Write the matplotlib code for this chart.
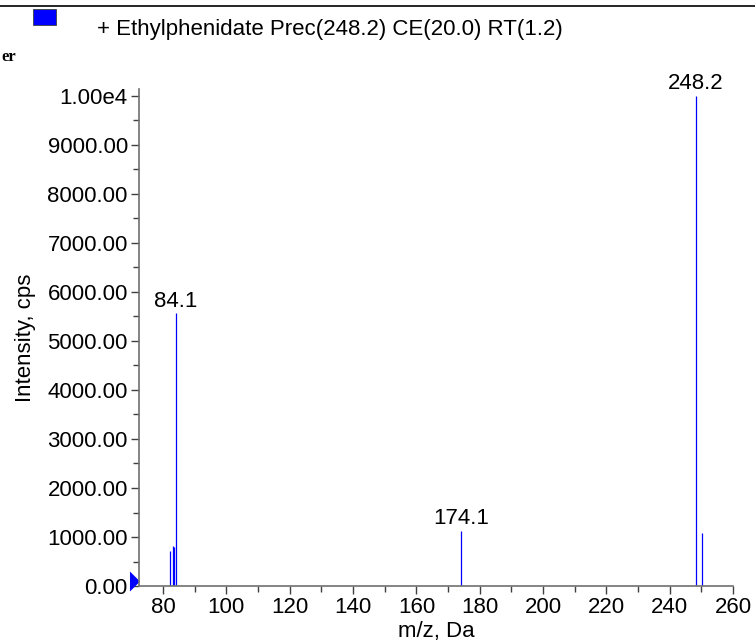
import matplotlib
matplotlib.use('Agg')
import matplotlib.pyplot as plt
from matplotlib.ticker import MultipleLocator, FuncFormatter
from matplotlib.patches import Rectangle
from matplotlib.lines import Line2D

plt.rcParams['font.family'] = ['Liberation Sans', 'DejaVu Sans']

# peaks (m/z, intensity)
mz = [82.3, 83.2, 83.4, 84.1, 174.1, 248.2, 250.2]
intensity = [710, 810, 800, 5560, 1130, 10000, 1090]
labelled = [84.1, 174.1, 248.2]

title = '+ Ethylphenidate Prec(248.2) CE(20.0) RT(1.2)'

fig = plt.figure(figsize=(7.55, 6.43), dpi=100)
ax = fig.add_axes([0.184, 0.0886, 0.787, 0.773])

ax.vlines(mz, 0, intensity, color='#0000ff', linewidth=0.9)
for m, h in zip(mz, intensity):
    if m in labelled:
        ax.annotate('%.1f' % m, (m, h), xytext=(0, 1), textcoords='offset points',
                    ha='center', va='bottom', fontsize=16)

ax.set_xlim(72.4, 260)
ax.set_ylim(0, 10140)
ax.xaxis.set_major_locator(MultipleLocator(20))
ax.xaxis.set_minor_locator(MultipleLocator(10))
ax.yaxis.set_major_locator(MultipleLocator(1000))
ax.yaxis.set_minor_locator(MultipleLocator(500))

def yfmt(v, pos):
    if v >= 10000:
        return '%.2fe4' % (v / 10000)
    return '%.2f' % v
ax.yaxis.set_major_formatter(FuncFormatter(yfmt))
ax.set_xticks([80, 100, 120, 140, 160, 180, 200, 220, 240, 260])

for s in ['top', 'right']:
    ax.spines[s].set_visible(False)
for s in ['left', 'bottom']:
    ax.spines[s].set_color('#707070')
    ax.spines[s].set_linewidth(1.2)
ax.tick_params(which='major', length=6, width=1, color='#404040', labelsize=16, pad=2)
ax.tick_params(which='minor', length=4, width=1, color='#404040')

ax.set_xlabel('m/z, Da', fontsize=16, labelpad=2)
ax.set_ylabel('Intensity, cps', fontsize=16, labelpad=8)

# blue marker left of the y axis near zero
ax.plot([0], [110], marker=[(-1, -1), (0, 0), (-1, 1)], color='#0000ff',
        markersize=13.7, clip_on=False, transform=ax.get_yaxis_transform(),
        markeredgecolor='#0000ff', markeredgewidth=0.5)

# header
fig.add_artist(Line2D([0, 1], [1 - 6 / 643, 1 - 6 / 643], color='black', linewidth=1.2))
fig.add_artist(Rectangle((33 / 755, 1 - 25 / 643), 23 / 755, 16 / 643,
                         facecolor='#0000ff', edgecolor='#404040', linewidth=0.6))
fig.text(97 / 755, 1 - 30 / 643, title, fontsize=16, va='center', ha='left')
fig.text(1 / 755, 1 - 57 / 643, 'er', fontsize=12, fontweight='bold',
         family='Liberation Serif', va='center', ha='left')

fig.savefig('out.png', dpi=100)
